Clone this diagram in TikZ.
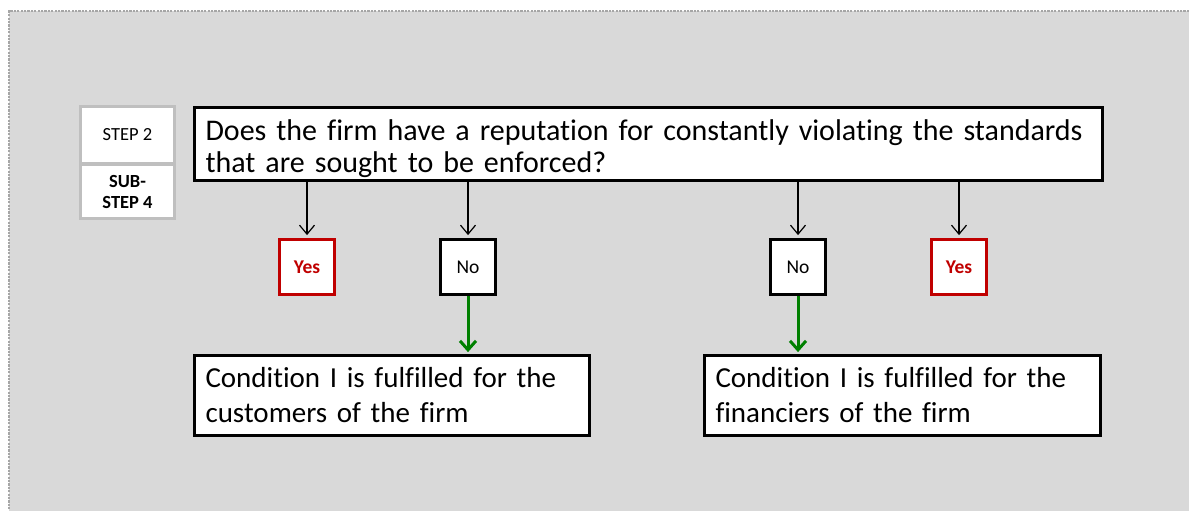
\documentclass[tikz,border=0pt]{standalone}
\usepackage{fontspec}
\setmainfont[Ligatures=NoCommon]{Carlito}
\usetikzlibrary{arrows.meta}
\definecolor{panelgray}{HTML}{D9D9D9}
\definecolor{dotgray}{HTML}{A6A6A6}
\definecolor{stepgray}{HTML}{BFBFBF}
\definecolor{yesred}{HTML}{C00000}
\definecolor{gogreen}{HTML}{008000}
\begin{document}
\begin{tikzpicture}[x=1pt,y=-1pt,
  stepbox/.style={draw=stepgray, line width=3pt, fill=white, minimum width=94pt,
    inner sep=0pt, align=center, font=\fontsize{18.5}{21}\selectfont},
  bigbox/.style={draw=black, line width=2.8pt, fill=white, align=left,
    inner xsep=11pt, inner ysep=0pt},
  answer/.style={draw=black, line width=2.8pt, fill=white, minimum width=55pt,
    minimum height=55pt, inner sep=0pt, font=\fontsize{19.5}{21}\selectfont},
  yesbox/.style={answer, draw=yesred, text=yesred, font=\fontsize{19.5}{21}\selectfont\bfseries},
  thinarrow/.style={draw=black, line width=1.2pt, -{Straight Barb[length=9pt,width=15pt,line width=1.2pt]}},
  greenarrow/.style={draw=gogreen, line width=3pt, -{Straight Barb[length=9pt,width=16pt,line width=3pt]}}
]
\useasboundingbox (0,0) rectangle (1189,511);
\fill[white] (0,0) rectangle (1189,511);
% grey panel with dotted top and left edges
\fill[panelgray] (9,11) rectangle (1189,511);
\draw[dotgray, line width=2.2pt, dash pattern=on 2.2pt off 1.2pt] (1189,11) -- (9,11) -- (9,511);

% step label
\node[stepbox, minimum height=57.5pt] (step) at (127.5,135) {STEP 2};
\node[stepbox, minimum height=54.5pt, font=\fontsize{18.5}{21}\selectfont\bfseries] (sub) at (127.5,191.5) {SUB-\\STEP 4};

% question
\node[bigbox, text width=886pt, minimum height=73pt, font=\fontsize{30}{32}\selectfont] (q) at (648.5,144)
  {\rule{0pt}{30.5pt}Does the firm have a reputation for constantly violating the standards\\that are sought to be enforced?};

% answers
\node[yesbox] (y1) at (307,267) {Yes};
\node[answer] (n1) at (468,267) {No};
\node[answer] (n2) at (798,267) {No};
\node[yesbox] (y2) at (959,267) {Yes};

% conclusions
\node[bigbox, text width=373pt, minimum height=80pt, font=\fontsize{29}{35}\selectfont] (c1) at (392,395.5)
  {Condition I is fulfilled for the\\customers of the firm};
\node[bigbox, text width=374pt, minimum height=80pt, font=\fontsize{29}{35}\selectfont] (c2) at (902.5,395.5)
  {Condition I is fulfilled for the\\financiers of the firm};

% connectors
\foreach \t in {y1,n1,n2,y2}
  \draw[thinarrow, shorten >=3pt] (q.south -| \t.north) -- (\t.north);
\draw[greenarrow, shorten >=2pt] (n1.south) -- (c1.north -| n1.south);
\draw[greenarrow, shorten >=2pt] (n2.south) -- (c2.north -| n2.south);
\end{tikzpicture}
\end{document}
